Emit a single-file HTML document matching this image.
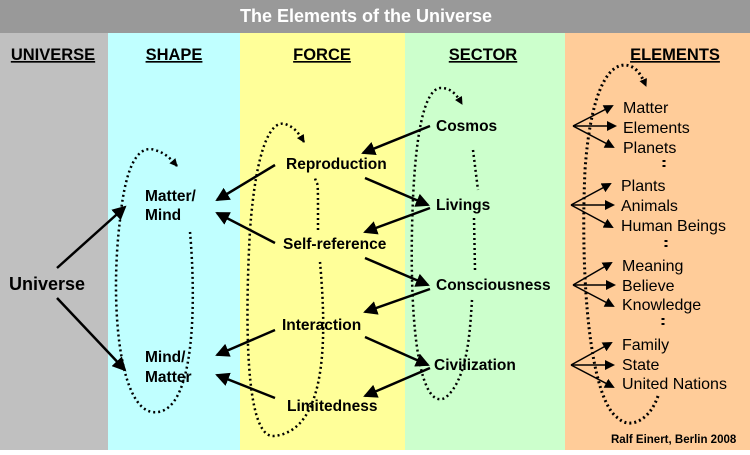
<!DOCTYPE html>
<html><head><meta charset="utf-8"><style>
body{margin:0;width:750px;height:450px;overflow:hidden;font-family:"Liberation Sans",Arial,sans-serif}
</style></head><body>
<svg width="750" height="450" xmlns="http://www.w3.org/2000/svg" font-family="Liberation Sans, Arial, sans-serif">
<defs>
<marker id="a" markerWidth="10" markerHeight="10" refX="8" refY="5" orient="auto" markerUnits="userSpaceOnUse"><path d="M0,0 L10,5 L0,10 z" fill="#000"/></marker>
<marker id="b" markerWidth="14" markerHeight="14" refX="12" refY="7" orient="auto" markerUnits="userSpaceOnUse"><path d="M0,0 L14,7 L0,14 z" fill="#000"/></marker>
<marker id="s" markerWidth="8" markerHeight="8" refX="7" refY="4" orient="auto" markerUnits="userSpaceOnUse"><path d="M0,0 L8,4 L0,8 z" fill="#000"/></marker>
</defs>
<rect x="0" y="0" width="750" height="33" fill="#999"/>
<text x="366" y="22" fill="#fff" font-size="18" font-weight="bold" text-anchor="middle">The Elements of the Universe</text>
<rect x="0" y="33" width="108" height="417" fill="#c0c0c0"/>
<rect x="108" y="33" width="132" height="417" fill="#c0ffff"/>
<rect x="240" y="33" width="165" height="417" fill="#ffff99"/>
<rect x="405" y="33" width="160" height="417" fill="#ccffcc"/>
<rect x="565" y="33" width="185" height="417" fill="#ffcc99"/>
<g font-weight="bold" font-size="16.5" text-decoration="underline" text-anchor="middle">
<text x="53" y="60">UNIVERSE</text><text x="174" y="60">SHAPE</text><text x="322" y="60">FORCE</text><text x="483" y="60">SECTOR</text><text x="675" y="60">ELEMENTS</text>
</g>
<g font-weight="bold" font-size="15.5">
<text x="9" y="290" font-size="18">Universe</text>
<text x="145" y="201">Matter/</text><text x="145" y="220">Mind</text>
<text x="145" y="362">Mind/</text><text x="145" y="382">Matter</text>
<text x="286" y="169">Reproduction</text>
<text x="283" y="249">Self-reference</text>
<text x="282" y="330">Interaction</text>
<text x="287" y="411">Limitedness</text>
<text x="436" y="131">Cosmos</text>
<text x="436" y="210">Livings</text>
<text x="436" y="290">Consciousness</text>
<text x="434" y="370">Civilization</text>
</g>
<g font-size="16">
<text x="623" y="113">Matter</text><text x="623" y="133">Elements</text><text x="623" y="153">Planets</text>
<text x="621" y="191">Plants</text><text x="621" y="211">Animals</text><text x="621" y="231">Human Beings</text>
<text x="622" y="271">Meaning</text><text x="622" y="291">Believe</text><text x="622" y="310">Knowledge</text>
<text x="622" y="350">Family</text><text x="622" y="370">State</text><text x="622" y="389">United Nations</text>
</g>
<text x="611" y="443" font-size="11.5" font-weight="bold">Ralf Einert, Berlin 2008</text>
<g stroke="#000" stroke-width="2.5" fill="none" marker-end="url(#b)">
<line x1="57" y1="268" x2="125" y2="207"/><line x1="57" y1="298" x2="125" y2="370"/>
<line x1="275" y1="165" x2="217" y2="200"/><line x1="275" y1="243" x2="217" y2="213"/>
<line x1="275" y1="330" x2="217" y2="355"/><line x1="275" y1="398" x2="217" y2="375"/>
<line x1="430" y1="126" x2="363" y2="153"/><line x1="365" y1="178" x2="428" y2="205"/>
<line x1="430" y1="208" x2="365" y2="232"/><line x1="365" y1="258" x2="428" y2="285"/>
<line x1="430" y1="289" x2="365" y2="312"/><line x1="365" y1="337" x2="428" y2="365"/>
<line x1="430" y1="368" x2="365" y2="396"/>
</g>
<g stroke="#000" stroke-width="1.5" fill="none" marker-end="url(#a)">
<line x1="573" y1="126" x2="612" y2="106"/><line x1="573" y1="126" x2="615" y2="126"/><line x1="573" y1="126" x2="613" y2="147"/>
<line x1="571" y1="205" x2="610" y2="184"/><line x1="571" y1="205" x2="613" y2="205"/><line x1="571" y1="205" x2="612" y2="227"/>
<line x1="573" y1="285" x2="611" y2="263"/><line x1="573" y1="285" x2="614" y2="285"/><line x1="573" y1="285" x2="613" y2="306"/>
<line x1="571" y1="365" x2="611" y2="343"/><line x1="571" y1="365" x2="613" y2="365"/><line x1="571" y1="365" x2="613" y2="387"/>
</g>
<g stroke="#000" stroke-width="2.5" stroke-dasharray="2 3" fill="none" marker-end="url(#s)">
<path d="M190,232 C196,300 196,418 152,412 C118,406 110,300 120,220 C126,160 140,145 155,150 C165,153 170,158 177,166"/>
<path d="M318,230 C318,170 318,190 315,178"  marker-end="none"/>
<path d="M320,262 C325,320 332,432 273,436 C245,436 245,320 250,230 C256,150 270,120 285,124 C294,127 298,132 304,142"/>
<path d="M473,150 L478,190" marker-end="none"/>
<path d="M474,218 L475,270" marker-end="none"/>
<path d="M472,300 C470,330 468,380 445,398 C420,410 410,330 412,230 C414,130 425,90 440,88 C450,88 455,92 462,104"/>
<path d="M658,396 C650,420 630,430 618,418 C590,400 580,280 585,170 C590,100 605,65 625,65 C635,66 640,72 646,86" stroke-width="3"/>
<path d="M664,160 L664,168 M666,240 L666,250 M663,318 L663,328" marker-end="none" stroke-width="3"/>
</g>
</svg>
</body></html>
